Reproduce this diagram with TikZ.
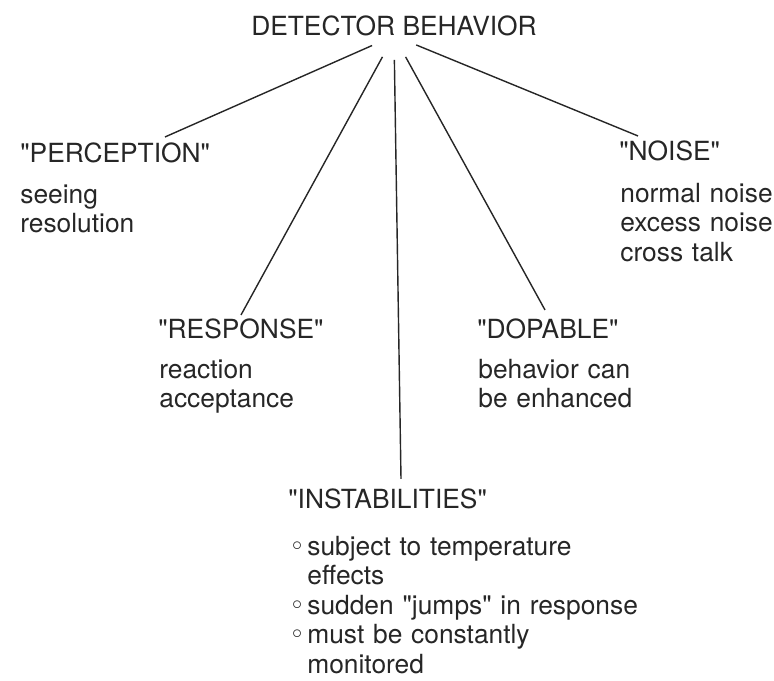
\documentclass[tikz,border=0pt]{standalone}
\usepackage{fontspec}
\setmainfont{TeX Gyre Heros}
\newfontfamily\markfont{DejaVu Sans}
\usetikzlibrary{calc}

\newcommand{\dq}{\XeTeXglyph\XeTeXcharglyph"22\relax}
\newcommand{\itemmark}{\makebox[0.36cm][l]{\markfont ◦}}

\begin{document}
\begin{tikzpicture}[x=0.02cm, y=-0.02cm]
        \tikzstyle{heading}=[anchor=base west, inner sep=0pt, text=black!85, font={\fontsize{15}{16.8}\selectfont}]
        \tikzstyle{items}=[heading, text width=9cm, align=left]
        \tikzstyle{link}=[line width=0.8pt, draw=black!85, shorten <=0.48cm]
        \useasboundingbox (0,0) rectangle (774,680);

        \node[heading, anchor=base] (behavior) at (394,35) {DETECTOR BEHAVIOR};

        \node[heading] (perception) at (20,162) {\dq PERCEPTION\dq};
        \node[items] (perception-items) at (20,203) {seeing\\resolution};

        \node[heading] (noise) at (619,160) {\dq NOISE\dq};
        \node[items] (noise-items) at (620,202) {normal noise\\excess noise\\cross talk};

        \node[heading] (response) at (158,338) {\dq RESPONSE\dq};
        \node[items] (response-items) at (159,378) {reaction\\acceptance};

        \node[heading] (dopable) at (477,338) {\dq DOPABLE\dq};
        \node[items] (dopable-items) at (478,378) {behavior can\\be enhanced};

        \node[heading] (instabilities) at (288,508) {\dq INSTABILITIES\dq};
        \node[items] (instabilities-items) at (289,555) {\itemmark subject to temperature\\
            \hspace*{0.36cm}effects\\
            \itemmark sudden \dq jumps\dq{} in response\\
            \itemmark must be constantly\\
            \hspace*{0.36cm}monitored};

        \draw[link] (behavior.south) -- ($(perception.north west)+(145,-5)$);
        \draw[link] (behavior.south) -- ($(response.north west)+(83,-3)$);
        \draw[link] (behavior.south) -- ($(instabilities.north west)+(113,-9)$);
        \draw[link] (behavior.south) -- ($(dopable.north west)+(68,-8)$);
        \draw[link] (behavior.south) -- ($(noise.north west)+(19,-4)$);
    \end{tikzpicture}
\end{document}
